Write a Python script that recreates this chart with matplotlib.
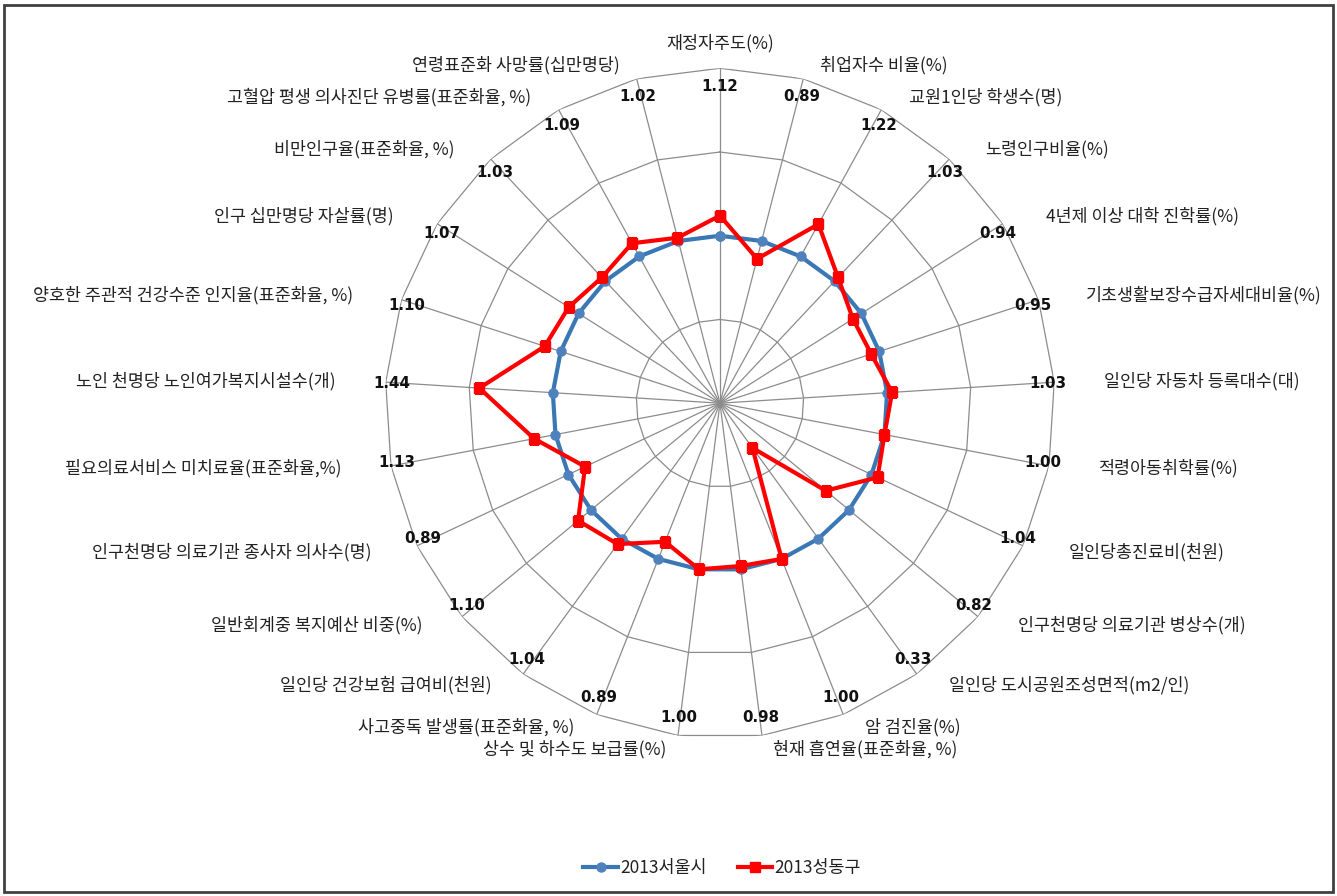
import numpy as np
import matplotlib.pyplot as plt
from matplotlib.lines import Line2D
from matplotlib.patches import Rectangle

plt.rcParams['font.family'] = ['Noto Sans CJK KR', 'DejaVu Sans']

# Radar axes, clockwise from the top
categories = [
    '재정자주도(%)', '취업자수 비율(%)', '교원1인당 학생수(명)', '노령인구비율(%)',
    '4년제 이상 대학 진학률(%)', '기초생활보장수급자세대비율(%)', '일인당 자동차 등록대수(대)',
    '적령아동취학률(%)', '일인당총진료비(천원)', '인구천명당 의료기관 병상수(개)',
    '일인당 도시공원조성면적(m2/인)', '암 검진율(%)', '현재 흡연율(표준화율, %)',
    '상수 및 하수도 보급률(%)', '사고중독 발생률(표준화율, %)', '일인당 건강보험 급여비(천원)',
    '일반회계중 복지예산 비중(%)', '인구천명당 의료기관 종사자 의사수(명)',
    '필요의료서비스 미치료율(표준화율,%)', '노인 천명당 노인여가복지시설수(개)',
    '양호한 주관적 건강수준 인지율(표준화율, %)', '인구 십만명당 자살률(명)',
    '비만인구율(표준화율, %)', '고혈압 평생 의사진단 유병률(표준화율, %)',
    '연령표준화 사망률(십만명당)',
]

seoul_2013 = [1.00, 1.00, 1.00, 1.00, 1.00, 1.00, 1.00, 1.00, 1.00, 1.00,
              1.00, 1.00, 1.00, 1.00, 1.00, 1.00, 1.00, 1.00, 1.00, 1.00,
              1.00, 1.00, 1.00, 1.00, 1.00]

seongdong_2013 = [1.12, 0.89, 1.22, 1.03, 0.94, 0.95, 1.03, 1.00, 1.04, 0.82,
                  0.33, 1.00, 0.98, 1.00, 0.89, 1.04, 1.10, 0.89, 1.13, 1.44,
                  1.10, 1.07, 1.03, 1.09, 1.02]

ring_levels = [0.5, 1.0, 1.5, 2.0]
r_max = 2.0

n = len(categories)
theta = np.arange(n) * 2 * np.pi / n
closed = np.append(theta, theta[0])

fig = plt.figure(figsize=(13.37, 8.96), dpi=100)
ax = fig.add_axes([0.288, 0.176, 0.501, 0.748], projection='polar')
ax.set_theta_zero_location('N')
ax.set_theta_direction(-1)
ax.set_ylim(0, r_max)
ax.set_axis_off()

# polygon gridlines + spokes
grid_color = '#8c8c8c'
for lv in ring_levels:
    ax.plot(closed, [lv] * (n + 1), color=grid_color, lw=0.9, zorder=1)
for t in theta:
    ax.plot([t, t], [0, r_max], color=grid_color, lw=0.9, zorder=1)

# series
ax.plot(closed, seoul_2013 + seoul_2013[:1], color='#3a78b5', lw=3,
        marker='o', ms=6.5, mfc='#4F81BD', mec='#4F81BD', zorder=3)
ax.plot(closed, seongdong_2013 + seongdong_2013[:1], color='#FF0000', lw=3,
        marker='s', ms=7.5, mfc='#FF0000', mec='#FF0000', zorder=4)

px = 72 / 100  # pixels -> points

# category labels outside the outer ring
for t, lab in zip(theta, categories):
    s, c = np.sin(t), np.cos(t)
    if abs(s) < 0.05:
        ha, va = 'center', 'bottom'
        dx, dy = 0, 16
    else:
        ha = 'left' if s > 0 else 'right'
        va = 'center'
        dx = (44 * s + 6 * np.sign(s))
        dy = 14 * c
    ax.annotate(lab, xy=(t, r_max), xytext=(dx * px, dy * px),
                textcoords='offset points', ha=ha, va=va,
                fontsize=12.5, color='#222222')

# value labels (bold) just inside the outer ring
for t, v in zip(theta, seongdong_2013):
    s, c = np.sin(t), np.cos(t)
    ax.annotate(f'{v:.2f}', xy=(t, r_max), xytext=(-6 * s * px, -18 * c * px),
                textcoords='offset points', ha='center', va='center',
                fontsize=10.8, fontweight='bold', family='DejaVu Sans',
                color='#111111', zorder=5)

handles = [
    Line2D([], [], color='#3a78b5', lw=3, marker='o', ms=6.5,
           mfc='#4F81BD', mec='#4F81BD'),
    Line2D([], [], color='#FF0000', lw=3, marker='s', ms=7.5),
]
fig.legend(handles, ['2013서울시', '2013성동구'], loc='center',
           bbox_to_anchor=(0.54, 0.031), ncol=2, frameon=False,
           fontsize=12.5, handlelength=2.0, handletextpad=0.1,
           columnspacing=1.8, labelcolor='#222222')

# chart border
fig.patches.append(Rectangle((0.003, 0.004), 0.994, 0.99, transform=fig.transFigure,
                             fill=False, edgecolor='#404040', lw=2))

fig.savefig('out.png', dpi=100)
